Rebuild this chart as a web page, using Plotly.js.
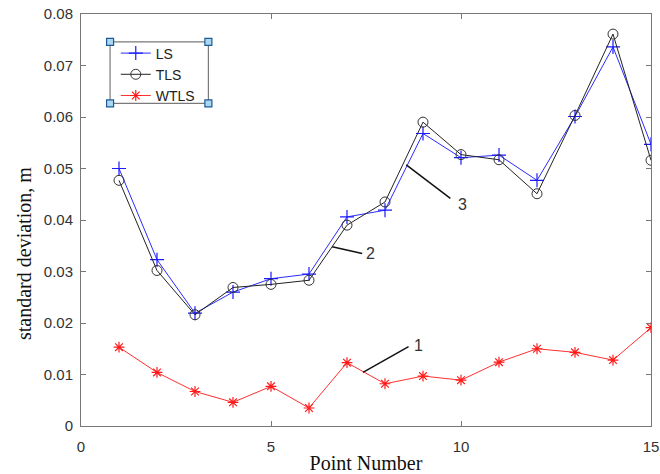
<!DOCTYPE html>
<html>
<head>
<meta charset="utf-8">
<script src="https://cdn.plot.ly/plotly-3.0.1.min.js"></script>
<style>html,body{margin:0;padding:0;background:#fff;}#chart{width:660px;height:474px;}</style>
</head>
<body>
<div id="chart"></div>
<script>
// ---- data ----
var pointNumbers = [1,2,3,4,5,6,7,8,9,10,11,12,13,14,15];
var lsValues   = [0.0500,0.0323,0.0219,0.0260,0.0286,0.0295,0.0406,0.0419,0.0568,0.0521,0.0526,0.0477,0.0601,0.0736,0.0547];
var tlsValues  = [0.0477,0.0302,0.0216,0.0269,0.0275,0.0283,0.0390,0.0435,0.0590,0.0527,0.0517,0.0451,0.0603,0.0761,0.0516];
var wtlsValues = [0.0153,0.0104,0.0067,0.0046,0.0077,0.0035,0.0123,0.0082,0.0097,0.0089,0.0124,0.0150,0.0143,0.0128,0.0191];
var seriesNames = ["LS","TLS","WTLS"];
var xTickValues = [0,5,10,15];
var yTickValues = [0,0.01,0.02,0.03,0.04,0.05,0.06,0.07,0.08];
var xTitleText = "Point Number";
var yTitleText = "standard deviation, m";

// callout labels and their leader lines (data coordinates)
var calloutLabels = ["1","2","3"];
var calloutLineX0 = [7.42, 6.61, 8.56];
var calloutLineY0 = [0.0104, 0.0348, 0.0507];
var calloutLineX1 = [8.62, 7.40, 9.72];
var calloutLineY1 = [0.0154, 0.0335, 0.0442];
var calloutTextX  = [8.87, 7.63, 10.05];
var calloutTextY  = [0.0157, 0.0334, 0.0431];

var traces = [
  {x: pointNumbers, y: lsValues, name: seriesNames[0], type: "scatter", mode: "lines+markers",
   line: {color: "#2b2bff", width: 1},
   marker: {symbol: "cross-thin-open", size: 10, color: "#1a1aff", line: {color: "#1a1aff", width: 1.2}}},
  {x: pointNumbers, y: tlsValues, name: seriesNames[1], type: "scatter", mode: "lines+markers",
   line: {color: "#222222", width: 1},
   marker: {symbol: "circle-open", size: 10, color: "#333333", line: {color: "#333333", width: 1}}},
  {x: pointNumbers, y: wtlsValues, name: seriesNames[2], type: "scatter", mode: "lines+markers",
   line: {color: "#ff3030", width: 1},
   marker: {symbol: "asterisk-open", size: 9, color: "#ff1a1a", line: {color: "#ff1a1a", width: 1.2}}}
];

var shapes = [];
var annotations = [];
for (var i = 0; i < calloutLabels.length; i++) {
  shapes.push({type: "line", xref: "x", yref: "y",
    x0: calloutLineX0[i], y0: calloutLineY0[i], x1: calloutLineX1[i], y1: calloutLineY1[i],
    line: {color: "#111111", width: 1.5}});
  annotations.push({xref: "x", yref: "y", x: calloutTextX[i], y: calloutTextY[i],
    text: calloutLabels[i], showarrow: false, xanchor: "center", yanchor: "middle",
    font: {family: "Liberation Sans, Arial, sans-serif", size: 16, color: "#333333"}});
}

// y-axis title placed as a rotated annotation (sits lower than the plot centre in the reference)
annotations.push({xref: "paper", yref: "paper", x: 0, y: 0.4175, xshift: -57,
  xanchor: "center", yanchor: "middle", textangle: -90, showarrow: false,
  text: yTitleText,
  font: {family: "Liberation Serif, Times New Roman, serif", size: 20, color: "#111111"}});

// legend box with selection handles (paper coordinates)
var boxX0 = 0.0510, boxX1 = 0.2235, boxY0 = 0.7830, boxY1 = 0.9325;
shapes.push({type: "rect", xref: "paper", yref: "paper", x0: boxX0, x1: boxX1, y0: boxY0, y1: boxY1,
  line: {color: "#7a7a7a", width: 1.2}, fillcolor: "rgba(255,255,255,1)", layer: "below"});
var hx = [boxX0, boxX1, boxX0, boxX1];
var hy = [boxY0, boxY0, boxY1, boxY1];
for (var k = 0; k < 4; k++) {
  shapes.push({type: "rect", xref: "paper", yref: "paper", xsizemode: "pixel", ysizemode: "pixel",
    xanchor: hx[k], yanchor: hy[k], x0: -3.5, x1: 3.5, y0: -3.5, y1: 3.5,
    line: {color: "#1f5a96", width: 1.2}, fillcolor: "#a9d9f2"});
}

var axisCommon = {
  showline: true, linecolor: "#777777", linewidth: 1, mirror: "ticks",
  ticks: "inside", ticklen: 5, tickcolor: "#777777", tickwidth: 1,
  showgrid: false, zeroline: false, tickmode: "array",
  tickfont: {family: "Liberation Sans, Arial, sans-serif", size: 15, color: "#333333"}
};

var layout = {
  width: 660, height: 474,
  margin: {l: 81, r: 9, t: 14, b: 48, pad: 0},
  paper_bgcolor: "#ffffff", plot_bgcolor: "#ffffff",
  showlegend: true,
  legend: {x: 0.061, y: 0.943, xanchor: "left", yanchor: "top",
    bgcolor: "rgba(0,0,0,0)", borderwidth: 0, tracegroupgap: 0,
    font: {family: "Liberation Sans, Arial, sans-serif", size: 14, color: "#222222"}},
  xaxis: Object.assign({}, axisCommon, {
    range: [0, 15], tickvals: xTickValues, ticktext: xTickValues.map(String),
    ticklabelstandoff: 7,
    title: {text: xTitleText, standoff: 2,
      font: {family: "Liberation Serif, Times New Roman, serif", size: 20, color: "#111111"}}
  }),
  yaxis: Object.assign({}, axisCommon, {
    range: [0, 0.08], tickvals: yTickValues, ticktext: yTickValues.map(function(v){return v===0?"0":v.toFixed(2);}),
    ticklabelstandoff: 4
  }),
  shapes: shapes,
  annotations: annotations
};

Plotly.newPlot("chart", traces, layout, {displayModeBar: false, staticPlot: true});
</script>
</body>
</html>
